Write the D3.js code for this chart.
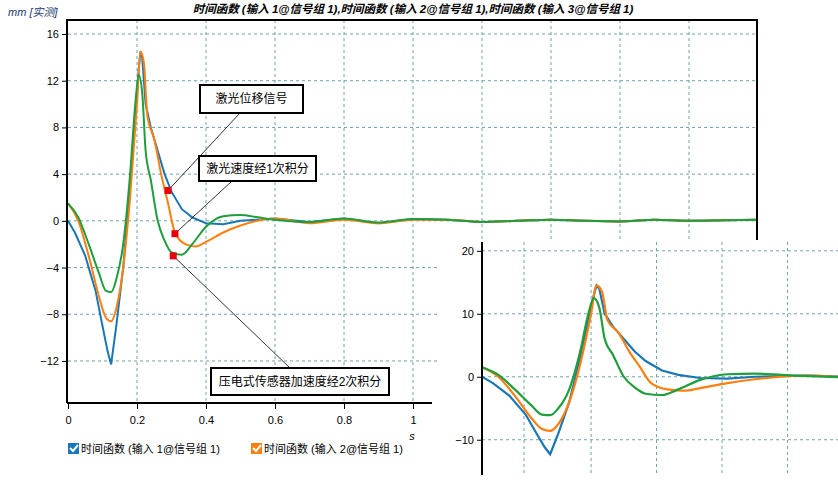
<!DOCTYPE html><html><head><meta charset="utf-8"><script src="https://cdn.jsdelivr.net/npm/d3@7"></script>
<style>body{margin:0;background:#fff}text{font-family:Arial,"Liberation Sans","Noto Sans CJK SC",sans-serif}</style></head><body><svg id="c" width="838" height="491"></svg><script>
const tBlue=[0,0.02,0.05,0.08,0.1,0.115,0.125,0.14,0.16,0.18,0.195,0.205,0.21,0.215,0.225,0.24,0.26,0.28,0.3,0.33,0.36,0.4,0.45,0.5,0.6,0.7,0.8,0.9,1.0,1.1,1.2,1.3,1.4,1.5,1.6,1.7,1.8,1.9,2.0];
const vBlue=[0,-1,-3,-6,-9,-11.2,-12.3,-9,-4,3,9,13,14.5,14,10,8,6,4,2.5,1,0.3,-0.2,-0.3,0,0.2,-0.1,0.2,-0.2,0.15,0.1,-0.1,0,0.1,0,-0.05,0.1,0,0.05,0.1];
const tOrange=[0,0.03,0.06,0.09,0.11,0.125,0.14,0.16,0.18,0.2,0.21,0.22,0.23,0.25,0.27,0.29,0.31,0.34,0.37,0.4,0.45,0.5,0.6,0.7,0.8,0.9,1.0,1.1,1.2,1.3,1.4,1.5,1.6,1.7,1.8,1.9,2.0];
const vOrange=[1.5,0,-3,-6.5,-8.3,-8.6,-7.5,-4,2,10,14.5,13.5,9,7,4,1.5,-1,-2,-2.2,-1.8,-1,-0.4,0.2,-0.2,0.1,-0.2,0.1,0.1,-0.1,0,0.1,0,-0.05,0.1,0,0.05,0.1];
const tGreen=[0,0.03,0.06,0.09,0.11,0.125,0.14,0.16,0.18,0.195,0.205,0.215,0.225,0.24,0.26,0.28,0.3,0.33,0.36,0.4,0.45,0.5,0.55,0.6,0.7,0.8,0.9,1.0,1.1,1.2,1.3,1.4,1.5,1.6,1.7,1.8,1.9,2.0];
const vGreen=[1.5,0.3,-2,-4.5,-6,-6.1,-5,-2,4,10,12.5,11,6,3.5,0,-1.7,-2.7,-2.9,-2,-0.5,0.4,0.5,0.3,0.1,-0.1,0.2,-0.15,0.15,0.1,-0.1,0,0.1,0,-0.05,0.1,0,0.05,0.1];
const colors=["#1a77b5","#ff7f0e","#1f9e3c"];
const xTicks=[0,0.2,0.4,0.6,0.8,1];
const yTicks=[-12,-8,-4,0,4,8,12,16];
const insetYTicks=[-10,0,10,20];
const insetXGrid=[0.077,0.2,0.32,0.44,0.56];
const markers=[[0.29,2.6],[0.31,-1.1],[0.305,-3.0]];
const notes=[{t:"激光位移信号",bx:200,by:85,bw:103,bh:28,m:0,ex:240,ey:113},
{t:"激光速度经1次积分",bx:199,by:156,bw:117,bh:25,m:1,ex:232,ey:181},
{t:"压电式传感器加速度经2次积分",bx:211,by:368,bw:178,bh:27,m:2,ex:290,ey:368}];
const title="时间函数 (输入 1@信号组 1),时间函数 (输入 2@信号组 1),时间函数 (输入 3@信号组 1)";
const legend=["时间函数 (输入 1@信号组 1)","时间函数 (输入 2@信号组 1)"];
const series=[[tBlue,vBlue],[tOrange,vOrange],[tGreen,vGreen]].map(([t,v])=>t.map((d,i)=>[d,v[i]]));
const svg=d3.select("#c");
const x=d3.scaleLinear().domain([0,2]).range([68,758]);
const y=d3.scaleLinear().domain([-15.6,17.2]).range([403,20]);
const grid="#6fa3a8";
const g=svg.append("g");
xTicks.concat([1.2,1.4,1.6,1.8]).forEach(t=>{if(t>0)g.append("line").attr("x1",x(t)).attr("x2",x(t)).attr("y1",20).attr("y2",403).attr("stroke",grid).attr("stroke-dasharray","3,3");});
yTicks.forEach(v=>g.append("line").attr("x1",68).attr("x2",757).attr("y1",y(v)).attr("y2",y(v)).attr("stroke",grid).attr("stroke-dasharray","3,3"));
svg.append("clipPath").attr("id","cp").append("rect").attr("x",68).attr("y",20).attr("width",690).attr("height",383);
const mk=(xs,ys,i)=>d3.line().x(d=>xs(d[0])).y(d=>ys(d[1])).curve(i==0?d3.curveLinear:d3.curveMonotoneX);
series.forEach((s,i)=>g.append("path").attr("d",mk(x,y,i)(s)).attr("fill","none").attr("stroke",colors[i]).attr("stroke-width",2).attr("clip-path","url(#cp)"));
g.append("path").attr("d",`M67,403V20H757V240`).attr("fill","none").attr("stroke","#000").attr("stroke-width",2);
g.append("line").attr("x1",67).attr("x2",432).attr("y1",403).attr("y2",403).attr("stroke","#000").attr("stroke-width",2);
g.append("g").attr("transform","translate(67,0)").call(d3.axisLeft(y).tickValues(yTicks).tickSize(5).tickFormat(d3.format("d"))).call(a=>{a.select(".domain").remove();a.selectAll("text").attr("font-size",11).attr("fill","#000");});
g.append("g").attr("transform","translate(0,404)").call(d3.axisBottom(x).tickValues(xTicks).tickSize(5).tickFormat(d=>d)).call(a=>{a.select(".domain").remove();a.selectAll("text").attr("font-size",11).attr("fill","#000").attr("dy","1.1em");});
svg.append("text").attr("x",8).attr("y",16).attr("font-size",11).attr("font-style","italic").attr("fill","#1a3a6a").text("mm [实测]");
svg.append("text").attr("x",413).attr("y",13).attr("text-anchor","middle").attr("font-size",11.5).attr("font-weight","bold").attr("font-style","italic").text(title);
svg.append("text").attr("x",412).attr("y",440).attr("text-anchor","middle").attr("font-size",11).attr("font-style","italic").text("s");
notes.forEach(n=>{const m=markers[n.m];
 g.append("line").attr("x1",x(m[0])).attr("y1",y(m[1])).attr("x2",n.ex).attr("y2",n.ey).attr("stroke","#000").attr("stroke-width",0.8);
 g.append("rect").attr("x",n.bx).attr("y",n.by).attr("width",n.bw).attr("height",n.bh).attr("fill","#fff").attr("stroke","#000").attr("stroke-width",2);
 g.append("text").attr("x",n.bx+n.bw/2).attr("y",n.by+n.bh/2+4).attr("text-anchor","middle").attr("font-size",12).text(n.t);});
markers.forEach(m=>g.append("rect").attr("x",x(m[0])-3.5).attr("y",y(m[1])-3.5).attr("width",7).attr("height",7).attr("fill","#e8000b"));
legend.forEach((t,i)=>{const lx=[68,251][i];
 svg.append("rect").attr("x",lx).attr("y",443).attr("width",11).attr("height",11).attr("fill",colors[i]);
 svg.append("path").attr("d",`M${lx+2},${448}l3,3l5,-6`).attr("stroke","#fff").attr("stroke-width",2).attr("fill","none");
 svg.append("text").attr("x",lx+13).attr("y",453).attr("font-size",11).text(t);});
const ix=d3.scaleLinear().domain([0,0.66]).range([482,842]);
const iy=d3.scaleLinear().domain([-15.6,21.4]).range([475,242]);
svg.append("rect").attr("x",440).attr("y",240).attr("width",398).attr("height",251).attr("fill","#fff");
const ig=svg.append("g");
insetXGrid.forEach(t=>ig.append("line").attr("x1",ix(t)).attr("x2",ix(t)).attr("y1",242).attr("y2",475).attr("stroke",grid).attr("stroke-dasharray","3,3"));
insetYTicks.forEach(v=>ig.append("line").attr("x1",482).attr("x2",838).attr("y1",iy(v)).attr("y2",iy(v)).attr("stroke",grid).attr("stroke-dasharray","3,3"));
svg.append("clipPath").attr("id","ci").append("rect").attr("x",482).attr("y",242).attr("width",356).attr("height",233);
series.forEach((s,i)=>ig.append("path").attr("d",mk(ix,iy,i)(s)).attr("fill","none").attr("stroke",colors[i]).attr("stroke-width",2.2).attr("clip-path","url(#ci)"));
ig.append("line").attr("x1",482).attr("x2",482).attr("y1",242).attr("y2",475).attr("stroke","#000").attr("stroke-width",2);
ig.append("g").attr("transform","translate(481,0)").call(d3.axisLeft(iy).tickValues(insetYTicks).tickSize(4)).call(a=>{a.select(".domain").remove();a.selectAll("text").attr("font-size",11).attr("fill","#000");});
</script></body></html>
